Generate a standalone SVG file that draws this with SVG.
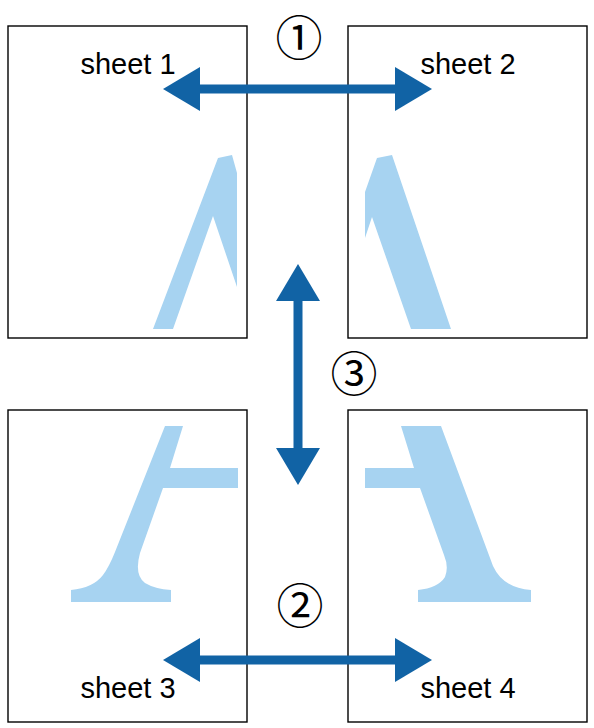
<svg xmlns="http://www.w3.org/2000/svg" width="594" height="728" viewBox="0 0 594 728">
<style>
.sheet{fill:#fff;stroke:#000;stroke-width:1.4}
.glyph{fill:#a7d3f1;stroke:none}
.label{font-family:"Liberation Sans",Arial,sans-serif;font-size:29px;fill:#000}
.num{font-family:"Noto Sans CJK JP","DejaVu Sans",sans-serif;font-size:47px;fill:#000;text-anchor:middle}
.arrow{stroke:#1163a5;stroke-width:9;fill:none;marker-start:url(#head);marker-end:url(#head)}
</style>
<defs>
<marker id="head" markerUnits="userSpaceOnUse" viewBox="0 0 37 44" markerWidth="37" markerHeight="44" refX="1" refY="22" orient="auto-start-reverse">
<path d="M0,0 L37,22 L0,44 Z" fill="#1163a5"/>
</marker>
</defs>
<g id="sheet1">
<rect class="sheet" x="8" y="26" width="239" height="312"/>
<polygon class="glyph" points="153,329 218,158 232,155 237,173 237,287 213,216 173,329"/>
<text class="label" x="128" y="74" text-anchor="middle">sheet 1</text>
</g>
<g id="sheet2">
<rect class="sheet" x="348" y="26" width="239" height="312"/>
<polygon class="glyph" points="365,192 377,158 392,155 451,329 411,329 372,217 365,238"/>
<text class="label" x="468" y="74" text-anchor="middle">sheet 2</text>
</g>
<g id="sheet3">
<rect class="sheet" x="8" y="410" width="239" height="312"/>
<path class="glyph" d="M165,426 L183,426 L170,468 L238,468 L238,488 L163,488 L140,553 Q134,575 145,583 Q155,589 171,590 L171,602 L71,602 L71,590 Q93,588 103,575 Q109,567 115,552 Z"/>
<text class="label" x="128" y="698" text-anchor="middle">sheet 3</text>
</g>
<g id="sheet4">
<rect class="sheet" x="348" y="410" width="239" height="312"/>
<path class="glyph" d="M401,426 L441,426 L493,566 Q503,588 531,590 L531,602 L418,602 L418,590 Q438,588 445,577 Q449,567 444,555 L420,488 L365,488 L365,468 L414,468 Z"/>
<text class="label" x="468" y="698" text-anchor="middle">sheet 4</text>
</g>
<g id="labels">
<text class="num" x="299" y="55">①</text>
<text class="num" x="354" y="391">③</text>
<text class="num" x="300" y="623">②</text>
</g>
<g id="connectors">
<line class="arrow" x1="199" y1="89" x2="396" y2="89"/>
<line class="arrow" x1="199" y1="660" x2="396" y2="660"/>
<line class="arrow" x1="298" y1="300" x2="298" y2="449"/>
</g>
</svg>
